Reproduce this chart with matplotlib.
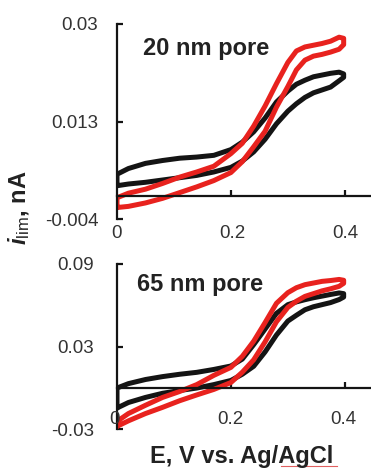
import matplotlib
matplotlib.use("Agg")
import matplotlib.pyplot as plt
from matplotlib.lines import Line2D

plt.rcParams['font.family'] = ['Liberation Sans', 'DejaVu Sans']
plt.rcParams['mathtext.fontset'] = 'custom'
plt.rcParams['mathtext.rm'] = 'Liberation Sans'
plt.rcParams['mathtext.it'] = 'Liberation Sans:italic'
plt.rcParams['mathtext.bf'] = 'Liberation Sans:bold'
plt.rcParams['mathtext.bfit'] = 'Liberation Sans:italic:bold'

# ---------------- data ----------------
E = [0.0, 0.02, 0.05, 0.08, 0.11, 0.14, 0.17, 0.20, 0.22, 0.24, 0.26, 0.28,
     0.30, 0.315, 0.33, 0.345, 0.36, 0.375, 0.39, 0.398]

# 20 nm pore (nA): lower-right branch (fwd) and upper-left branch (rev)
top_black_fwd = [0.0018, 0.0021, 0.0024, 0.0028, 0.0032, 0.0036, 0.0042, 0.0050, 0.0061, 0.0077,
                 0.0099, 0.0126, 0.0148, 0.0161, 0.0172, 0.0180, 0.0185, 0.0190, 0.0201, 0.0207]
top_black_rev = [0.0038, 0.0048, 0.0057, 0.0062, 0.0066, 0.0068, 0.0071, 0.0081, 0.0094, 0.0112,
                 0.0136, 0.0164, 0.0183, 0.0195, 0.0202, 0.0208, 0.0211, 0.0214, 0.0216, 0.0213]
top_red_fwd = [-0.0020, -0.0018, -0.0012, -0.0004, 0.0006, 0.0016, 0.0027, 0.0041, 0.0060, 0.0086,
               0.0113, 0.0155, 0.0191, 0.0220, 0.0237, 0.0244, 0.0247, 0.0251, 0.0256, 0.0264]
top_red_rev = [-0.0003, 0.0005, 0.0012, 0.0022, 0.0033, 0.0042, 0.0052, 0.0074, 0.0092, 0.0122,
               0.0157, 0.0196, 0.0233, 0.0253, 0.0260, 0.0263, 0.0266, 0.0270, 0.0277, 0.0275]

# 65 nm pore (nA)
bot_black_fwd = [-0.0145, -0.0105, -0.0068, -0.0038, -0.0018, 0.0000, 0.0025, 0.0055, 0.0100, 0.0158,
                 0.0262, 0.0385, 0.0486, 0.0528, 0.0568, 0.0590, 0.0605, 0.0620, 0.0642, 0.0660]
bot_black_rev = [0.0000, 0.0032, 0.0062, 0.0083, 0.0100, 0.0114, 0.0135, 0.0160, 0.0210, 0.0315,
                 0.0428, 0.0542, 0.0605, 0.0625, 0.0641, 0.0655, 0.0667, 0.0679, 0.0690, 0.0685]
bot_red_fwd = [-0.0278, -0.0238, -0.0185, -0.0140, -0.0092, -0.0050, -0.0010, 0.0040, 0.0115, 0.0205,
               0.0335, 0.0481, 0.0585, 0.0630, 0.0665, 0.0685, 0.0705, 0.0720, 0.0738, 0.0760]
bot_red_rev = [-0.0242, -0.0185, -0.0125, -0.0068, -0.0025, 0.0025, 0.0092, 0.0150, 0.0230, 0.0340,
               0.0475, 0.0615, 0.0692, 0.0728, 0.0750, 0.0762, 0.0774, 0.0780, 0.0788, 0.0782]

top_yticks = [-0.004, 0.013, 0.03]
top_yticklabels = ['-0.004', '0.013', '0.03']
bot_yticks = [-0.03, 0.03, 0.09]
bot_yticklabels = ['-0.03', '0.03', '0.09']
xticks = [0.2, 0.4]
xticklabels = ['0', '0.2', '0.4']

BLACK = '#141414'
RED = '#e8221e'
TXT = '#333333'

W, H = 371, 468
fig = plt.figure(figsize=(W / 100, H / 100), dpi=100)


def fx(px):
    return px / W


def fy(py):
    return 1 - py / H


def loop(ax, fwd, rev, color):
    xs = list(E) + list(reversed(E)) + [E[0]]
    ys = list(fwd) + list(reversed(rev)) + [fwd[0]]
    ax.plot(xs, ys, color=color, lw=3.6, solid_joinstyle='round', solid_capstyle='round')


def style(ax, ylim, yticks, ylabels, pad):
    ax.set_xlim(0, 0.446)
    ax.set_ylim(*ylim)
    for s in ['top', 'right']:
        ax.spines[s].set_visible(False)
    ax.spines['bottom'].set_position(('data', 0))
    for s in ['left', 'bottom']:
        ax.spines[s].set_linewidth(1.6)
        ax.spines[s].set_color(BLACK)
    ax.set_xticks(xticks)
    ax.set_xticklabels([])
    ax.tick_params(axis='x', direction='in', length=4, width=1.6, color=BLACK)
    ax.set_yticks(yticks)
    ax.set_yticklabels(ylabels)
    ax.tick_params(axis='y', direction='in', length=4, width=1.6, color=BLACK,
                   labelsize=13.5, labelcolor=TXT, pad=pad)
    ax.patch.set_visible(False)


# top panel: y 24 (0.03) .. 219 (-0.004)
ax1 = fig.add_axes([fx(117), fy(219), fx(W - 117), (219 - 24) / H])
loop(ax1, top_black_fwd, top_black_rev, BLACK)
loop(ax1, top_red_fwd, top_red_rev, RED)
style(ax1, (-0.004, 0.03), top_yticks, top_yticklabels, 13.5)
ax1.text(0.045, 0.0257, '20 nm pore', fontsize=17, fontweight='bold', color='#222222',
         va='center', ha='left')

# bottom panel: y 264 (0.09) .. 429.4 (-0.03)
ax2 = fig.add_axes([fx(117), fy(429.4), fx(W - 117), (429.4 - 264) / H])
loop(ax2, bot_black_fwd, bot_black_rev, BLACK)
loop(ax2, bot_red_fwd, bot_red_rev, RED)
style(ax2, (-0.03, 0.09), bot_yticks, bot_yticklabels, 16.5)
ax2.text(0.035, 0.0748, '65 nm pore', fontsize=17, fontweight='bold', color='#222222',
         va='center', ha='left')

# x tick labels sit at the bottom of each panel
for lab, px in zip(xticklabels, [117, 232, 345]):
    fig.text(fx(px), fy(233), lab, ha='center', va='center', fontsize=13.5, color=TXT)
for lab, px in zip(xticklabels, [114, 230, 343]):
    fig.text(fx(px), fy(419), lab, ha='center', va='center', fontsize=13.5, color=TXT)

# axis labels
fig.text(fx(242), fy(457), 'E, V vs. Ag/AgCl', ha='center', va='center', fontsize=17,
         fontweight='bold', color='#222222')
fig.add_artist(Line2D([fx(281), fx(337)], [fy(466), fy(466)], color='#e06060', lw=0.8,
                      transform=fig.transFigure))
fig.text(fx(19), fy(208), r'$\mathbfit{i}_{\mathrm{lim}}$, nA', rotation=90, ha='center',
         va='center', fontsize=17, fontweight='bold', color='#222222')

fig.savefig('out.png', dpi=100)
